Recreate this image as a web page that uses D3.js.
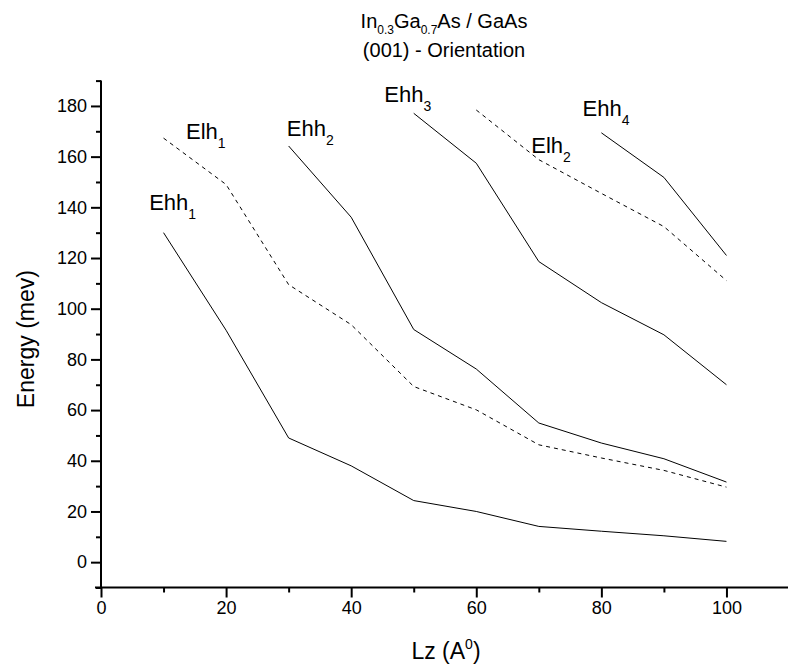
<!DOCTYPE html>
<html>
<head>
<meta charset="utf-8">
<script src="https://cdn.jsdelivr.net/npm/d3@7"></script>
<style>
  body { margin: 0; background: #fff; }
  text { font-family: Arial, "Liberation Sans", sans-serif; fill: #000; }
</style>
</head>
<body>
<div class="chart"></div>
<script>
// Lz values (A0)
const lz = [10, 20, 30, 40, 50, 60, 70, 80, 90, 100];

// energies (mev), each series starts where its curve starts
const ehh1 = [130, 91.5, 49, 38, 24.3, 20, 14.1, 12.2, 10.4, 8.2];
const elh1 = [167.3, 149, 109.5, 93.7, 69.3, 60.1, 46.3, 41.1, 36.2, 29.6];
const ehh2 = [164.2, 136.1, 91.8, 76.2, 54.9, 47, 40.8, 31.6];
const ehh3 = [177.1, 157.4, 118.6, 102.4, 89.7, 70];
const elh2 = [178.4, 158.8, 145.5, 132.4, 111.1];
const ehh4 = [169.4, 151.8, 121];

const seriesNames = ['Ehh1', 'Elh1', 'Ehh2', 'Ehh3', 'Elh2', 'Ehh4'];
const seriesValues = [ehh1, elh1, ehh2, ehh3, elh2, ehh4];
const seriesDashed = [false, true, false, false, true, false];

const xTicks = [0, 20, 40, 60, 80, 100];
const xMinor = [10, 30, 50, 70, 90];
const yTicks = [0, 20, 40, 60, 80, 100, 120, 140, 160, 180];
const yMinor = [-10, 10, 30, 50, 70, 90, 110, 130, 150, 170, 190];

const containerWidth = 788;
const containerHeight = 671;

const svg = d3.select('.chart')
  .append('svg')
  .attr('width', containerWidth)
  .attr('height', containerHeight);

const x = d3.scaleLinear().domain([0, 110]).range([101, 789]);
const y = d3.scaleLinear().domain([-10, 190]).range([587.5, 80.6]);

// axes
svg.append('g')
  .attr('transform', `translate(0, ${y(-10)})`)
  .call(d3.axisBottom(x).tickValues(xTicks).tickSize(10).tickSizeOuter(0).tickPadding(4));
svg.append('g')
  .attr('transform', `translate(0, ${y(-10)})`)
  .call(d3.axisBottom(x).tickValues(xMinor).tickSize(5).tickFormat(''));

svg.append('g')
  .attr('transform', `translate(${x(0)}, 0)`)
  .call(d3.axisLeft(y).tickValues(yTicks).tickSize(10).tickSizeOuter(0).tickPadding(4));
svg.append('g')
  .attr('transform', `translate(${x(0)}, 0)`)
  .call(d3.axisLeft(y).tickValues(yMinor).tickSize(5).tickFormat(''));

svg.selectAll('.domain').remove();
svg.selectAll('.tick line').attr('stroke', '#000').attr('stroke-width', 2);
svg.selectAll('.tick text').style('font-size', '18px').attr('fill', '#000');

// axis lines
svg.append('line')
  .attr('x1', x(0) - 6).attr('x2', x(110))
  .attr('y1', y(-10)).attr('y2', y(-10))
  .attr('stroke', '#000').attr('stroke-width', 2);
svg.append('line')
  .attr('x1', x(0)).attr('x2', x(0))
  .attr('y1', y(-10)).attr('y2', y(190))
  .attr('stroke', '#000').attr('stroke-width', 2);

// curves
const line = d3.line().x(d => x(d[0])).y(d => y(d[1]));
seriesValues.forEach((vals, i) => {
  const start = lz.length - vals.length;
  const pts = vals.map((v, j) => [lz[start + j], v]);
  svg.append('path')
    .datum(pts)
    .attr('d', line)
    .attr('fill', 'none')
    .attr('stroke', '#000')
    .attr('stroke-width', 1)
    .attr('stroke-dasharray', seriesDashed[i] ? '4,4' : null);
});

// curve labels (anchor in data units)
const labelPos = [[7.7, 139], [13.6, 167], [29.7, 168], [45.3, 181.5], [68.8, 161.5], [77, 176.2]];
seriesNames.forEach((name, i) => {
  const t = svg.append('text')
    .attr('x', x(labelPos[i][0]))
    .attr('y', y(labelPos[i][1]))
    .style('font-size', '22px');
  t.append('tspan').text(name.slice(0, 3));
  t.append('tspan').attr('dy', 9).style('font-size', '14px').text(name.slice(3));
});

// title
const title = svg.append('text')
  .attr('x', 444).attr('y', 28)
  .attr('text-anchor', 'middle')
  .style('font-size', '20px');
title.append('tspan').text('In');
title.append('tspan').attr('dy', 6).style('font-size', '12px').text('0.3');
title.append('tspan').attr('dy', -6).text('Ga');
title.append('tspan').attr('dy', 6).style('font-size', '12px').text('0.7');
title.append('tspan').attr('dy', -6).text('As / GaAs');

svg.append('text')
  .attr('x', 444).attr('y', 57)
  .attr('text-anchor', 'middle')
  .style('font-size', '20px')
  .text('(001) - Orientation');

// axis titles
const xl = svg.append('text')
  .attr('x', 446).attr('y', 659)
  .attr('text-anchor', 'middle')
  .style('font-size', '23px');
xl.append('tspan').text('Lz (A');
xl.append('tspan').attr('dy', -10).style('font-size', '14px').text('0');
xl.append('tspan').attr('dy', 10).text(')');

svg.append('text')
  .attr('transform', `translate(34, ${y(88)}) rotate(-90)`)
  .attr('text-anchor', 'middle')
  .style('font-size', '23px')
  .text('Energy (mev)');
</script>
</body>
</html>
